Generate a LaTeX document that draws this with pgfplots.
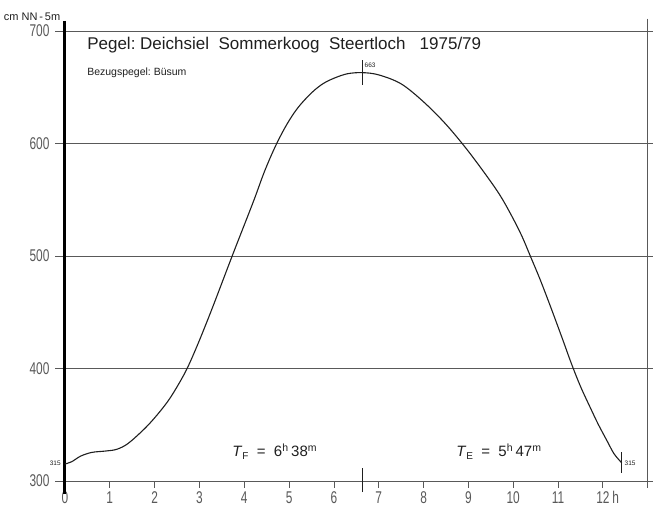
\documentclass[border=0pt]{standalone}
\usepackage{pgfplots}
\pgfplotsset{compat=1.18}
\usepackage{fontspec}
\setmainfont{Liberation Sans}
\newfontfamily\narrow{Liberation Sans}[FakeStretch=0.70]
\definecolor{ink}{gray}{0.12}
\definecolor{gridc}{gray}{0.35}
\begin{document}
\begin{tikzpicture}
\begin{axis}[
 width=583pt, height=450pt, scale only axis,
 xmin=0, xmax=13, ymin=300, ymax=700,
 clip=false,
 axis line style={draw=none},
 xtick={0,1,2,3,4,5,6,7,8,9,10,11,12},
 xticklabels={0,1,2,3,4,5,6,7,8,9,10,11,12\rlap{\,h}},
 ytick={300,400,500,600,700},
 xtick pos=bottom, ytick pos=left, tick align=outside,
 major tick length=7pt,
 x tick style={draw=gridc, line width=0.8pt},
 y tick style={draw=none},
 xticklabel style={font=\narrow\fontsize{17}{17}\selectfont, text=gridc},
 yticklabel style={font=\narrow\fontsize{17}{17}\selectfont, text=gridc, xshift=-5pt},
 /pgf/number format/assume math mode=true,
]
% page extent
\path (axis cs:-1.449,271.6) rectangle (axis cs:13.11,727.6);
% grid lines and frame
\draw[gridc, line width=0.7pt] (axis cs:-0.22,300) -- (axis cs:13.11,300);
\draw[gridc, line width=0.7pt] (axis cs:-0.22,400) -- (axis cs:13.11,400);
\draw[gridc, line width=0.7pt] (axis cs:-0.22,500) -- (axis cs:13.11,500);
\draw[gridc, line width=0.7pt] (axis cs:-0.22,600) -- (axis cs:13.11,600);
\draw[gridc, line width=0.7pt] (axis cs:-0.22,700) -- (axis cs:13.11,700);
\draw[gridc, line width=0.7pt] (axis cs:13,711) -- (axis cs:13,294);
\draw[black, line width=3pt] (axis cs:0,709) -- (axis cs:0,288);
% tide curve
\addplot[ink, line width=1.1pt, smooth, tension=0.55] coordinates {
(0,315) (0.15,317) (0.35,322) (0.6,325.3) (0.9,326.5) (1.15,328) (1.4,333)
(1.74,345) (2.0,356) (2.3,371) (2.55,387) (2.75,402) (3.0,425) (3.3,455)
(3.75,502) (4.2,548) (4.45,575) (4.7,598) (4.95,617) (5.2,632) (5.5,645)
(5.75,653) (6.0,658) (6.3,662) (6.63,663) (7.0,661) (7.5,653) (8.0,637)
(8.5,617) (9.0,593) (9.5,566) (9.75,551) (10.0,533) (10.2,517) (10.38,500)
(10.6,479) (10.85,453) (11.1,426) (11.3,404) (11.5,384) (11.72,365)
(11.9,350) (12.1,335) (12.25,324) (12.42,316)
};
% marks
\draw[ink, line width=0.7pt] (axis cs:6.63,674) -- (axis cs:6.63,652);
\draw[ink, line width=0.7pt] (axis cs:6.63,290) -- (axis cs:6.63,311);
\draw[ink, line width=0.7pt] (axis cs:12.42,307) -- (axis cs:12.42,326);
% texts
\node[anchor=east, text=ink, font=\fontsize{11}{11}\selectfont, inner sep=1pt] at (axis cs:-0.08,713) {cm NN\,-\,5m};
\node[anchor=west, text=ink, font=\fontsize{17}{18}\selectfont] at (axis cs:0.42,687.6) {Pegel:\ Deichsiel\ \ Sommerkoog\ \ Steertloch\ \ \ 1975/79};
\node[anchor=west, text=ink, font=\fontsize{10.5}{12}\selectfont] at (axis cs:0.42,662.7) {Bezugspegel:\ Büsum};
\node[anchor=west, text=ink, font=\fontsize{6.5}{7}\selectfont, inner sep=1pt] at (axis cs:6.66,670) {663};
\node[anchor=east, text=ink, font=\fontsize{6.5}{7}\selectfont, inner sep=1pt] at (axis cs:-0.07,316) {315};
\node[anchor=west, text=ink, font=\fontsize{6.5}{7}\selectfont, inner sep=1pt] at (axis cs:12.46,316) {315};
\node[text=ink, font=\fontsize{15}{16}\selectfont] at (axis cs:4.68,326) {\textit{T}\raisebox{-0.35ex}{\fontsize{10}{10}\selectfont F}\ \ =\ \ 6\textsuperscript{h}\,38\textsuperscript{m}};
\node[text=ink, font=\fontsize{15}{16}\selectfont] at (axis cs:9.68,326) {\textit{T}\raisebox{-0.35ex}{\fontsize{10}{10}\selectfont E}\ \ =\ \ 5\textsuperscript{h}\,47\textsuperscript{m}};
\end{axis}
\end{tikzpicture}
\end{document}
